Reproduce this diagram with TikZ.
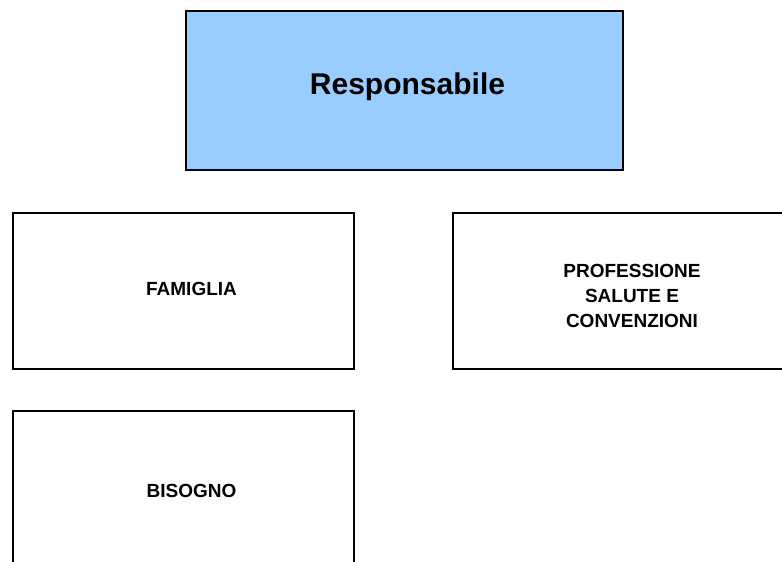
\documentclass[tikz,border=0pt]{standalone}
\usepackage{fontspec}
\setmainfont{Liberation Sans}
\definecolor{headfill}{HTML}{99CCFF}
\begin{document}
\begin{tikzpicture}[x=1pt,y=-1pt,
  box/.style={draw=black, line width=2pt, fill=white, inner sep=0pt,
    align=center, font=\fontsize{19}{25}\selectfont\bfseries},
  boxtext/.style={font=\fontsize{19}{25}\selectfont\bfseries, align=center, inner sep=0pt},
  headbox/.style={box, fill=headfill}]
\useasboundingbox (0,0) rectangle (782,562);
\clip (0,0) rectangle (782,562);
\node[headbox, minimum width=437pt, minimum height=159pt,
  label={[boxtext, font=\fontsize{30}{34}\selectfont\bfseries, xshift=3pt, yshift=4pt]center:Responsabile}]
  (resp) at (404.5,90.5) {};
\node[box, minimum width=341pt, minimum height=156pt,
  label={[boxtext, xshift=8pt, yshift=2pt]center:FAMIGLIA}] (fam) at (183.5,291) {};
\node[box, minimum width=358pt, minimum height=156pt,
  label={[boxtext, yshift=-5pt]center:PROFESSIONE\\SALUTE E\\CONVENZIONI}] (prof) at (632,291) {};
\node[box, minimum width=341pt, minimum height=160pt,
  label={[boxtext, xshift=8pt]center:BISOGNO}] (bis) at (183.5,491) {};
\end{tikzpicture}
\end{document}
